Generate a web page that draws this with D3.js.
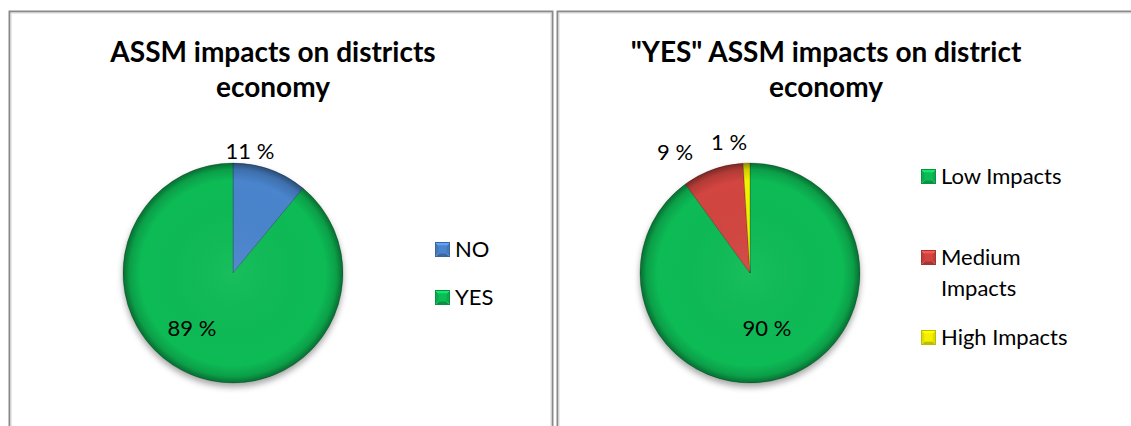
<!DOCTYPE html>
<html>
<head>
<meta charset="utf-8">
<script src="https://cdn.jsdelivr.net/npm/d3@7/dist/d3.min.js"></script>
<style>
  html, body { margin: 0; padding: 0; background: #fff; }
  svg { display: block; }
  text { font-family: Lato, "Liberation Sans", sans-serif; fill: #000; }
</style>
</head>
<body>
<svg id="chart" width="1131" height="426"></svg>
<script>
// ---- data ----
const economyCategories = ["NO", "YES"];
const economyValues = [11, 89];

const impactCategories = ["Low Impacts", "Medium Impacts", "High Impacts"];
const impactValues = [90, 9, 1];

const economyTitle = ["ASSM impacts on districts", "economy"];
const impactTitle = ["\"YES\" ASSM impacts on district", "economy"];

// ---- styling ----
const palette = {
  "NO": "#4a84cc",
  "YES": "#0bbb55",
  "Low Impacts": "#0bbb55",
  "Medium Impacts": "#d2443f",
  "High Impacts": "#f4f000"
};

const svg = d3.select("#chart");
const defs = svg.append("defs");

// soft shadow under each pie
const shadow = defs.append("filter").attr("id", "pieShadow")
  .attr("x", "-20%").attr("y", "-20%").attr("width", "140%").attr("height", "140%");
shadow.append("feDropShadow")
  .attr("dx", 0).attr("dy", 4).attr("stdDeviation", 3)
  .attr("flood-color", "#000").attr("flood-opacity", 0.35);

// darkened rim for the bevelled look
const rim = defs.append("radialGradient").attr("id", "rimShade")
  .attr("cx", "50%").attr("cy", "50%").attr("r", "50%");
rim.append("stop").attr("offset", "0%").attr("stop-color", "#fff").attr("stop-opacity", 0.05);
rim.append("stop").attr("offset", "84%").attr("stop-color", "#000").attr("stop-opacity", 0);
rim.append("stop").attr("offset", "94%").attr("stop-color", "#000").attr("stop-opacity", 0.15);
rim.append("stop").attr("offset", "100%").attr("stop-color", "#000").attr("stop-opacity", 0.42);

// panel frames
const frames = [
  { x: 9.5, y: 11.5, w: 543, h: 430 },
  { x: 557.5, y: 11.5, w: 600, h: 430 }
];
svg.selectAll("rect.frame").data(frames).join("rect")
  .attr("class", "frame")
  .attr("x", d => d.x).attr("y", d => d.y)
  .attr("width", d => d.w).attr("height", d => d.h)
  .attr("fill", "none").attr("stroke", "#8a8a8a").attr("stroke-width", 2);
svg.selectAll("rect.frameIn").data(frames).join("rect")
  .attr("class", "frameIn")
  .attr("x", d => d.x + 1.5).attr("y", d => d.y + 1.5)
  .attr("width", d => d.w - 3).attr("height", d => d.h - 3)
  .attr("fill", "none").attr("stroke", "#d8d8d8").attr("stroke-width", 1);

function bevelSquare(g, x, y, s, color) {
  const c = d3.color(color);
  const light = c.brighter(0.6).formatHex();
  const dark = c.darker(0.7).formatHex();
  const mid = c.darker(0.25).formatHex();
  const cx = x + s / 2, cy = y + s / 2;
  const tri = [
    { p: [[x, y], [x + s, y], [cx, cy]], f: light },
    { p: [[x + s, y], [x + s, y + s], [cx, cy]], f: mid },
    { p: [[x, y + s], [x + s, y + s], [cx, cy]], f: dark },
    { p: [[x, y], [x, y + s], [cx, cy]], f: mid }
  ];
  g.selectAll(null).data(tri).join("path")
    .attr("d", d => "M" + d.p.map(q => q.join(",")).join("L") + "Z")
    .attr("fill", d => d.f);
  g.append("rect").attr("x", x + s * 0.22).attr("y", y + s * 0.22)
    .attr("width", s * 0.56).attr("height", s * 0.56).attr("fill", color);
  g.append("rect").attr("x", x + 0.5).attr("y", y + 0.5)
    .attr("width", s - 1).attr("height", s - 1)
    .attr("fill", "none").attr("stroke", dark).attr("stroke-width", 1);
}

function drawPie(cfg) {
  const g = svg.append("g");

  // title
  g.append("text")
    .attr("x", cfg.titleX).attr("y", 62)
    .attr("text-anchor", "middle")
    .style("font-size", "28px").style("font-weight", "bold")
    .selectAll("tspan").data(cfg.title).join("tspan")
    .attr("x", cfg.titleX)
    .attr("dy", (d, i) => i === 0 ? 0 : 35)
    .text(d => d);

  const pie = d3.pie().sort(null).value(d => d.value);
  const arcs = pie(cfg.categories.map((c, i) => ({ name: c, value: cfg.values[i] })));
  const arc = d3.arc().innerRadius(0).outerRadius(cfg.r);

  const pg = g.append("g").attr("transform", `translate(${cfg.cx},${cfg.cy})`);
  const body = pg.append("g").attr("filter", "url(#pieShadow)");
  body.selectAll("path.slice").data(arcs).join("path")
    .attr("class", "slice")
    .attr("d", arc)
    .attr("fill", d => palette[d.data.name])
    .attr("stroke", "rgba(0,0,0,0.25)")
    .attr("stroke-width", 0.8);
  pg.append("circle").attr("r", cfg.r).attr("fill", "url(#rimShade)");

  // value labels
  pg.selectAll("text.val").data(arcs).join("text")
    .attr("class", "val")
    .attr("x", (d, i) => cfg.labelOffsets[i][0])
    .attr("y", (d, i) => cfg.labelOffsets[i][1])
    .attr("text-anchor", "middle")
    .attr("dominant-baseline", "central")
    .style("font-size", "22px")
    .text(d => d.data.value + " %");

  // legend
  const lg = g.append("g");
  cfg.categories.forEach((c, i) => {
    const y = cfg.legendY[i];
    bevelSquare(lg.append("g"), cfg.legendX, y - 15, 15, palette[c]);
    const lines = cfg.legendLines ? cfg.legendLines[i] : [c];
    const t = lg.append("text")
      .attr("x", cfg.legendX + 20).attr("y", y)
      .style("font-size", "22px");
    t.selectAll("tspan").data(lines).join("tspan")
      .attr("x", cfg.legendX + 20)
      .attr("dy", (d, k) => k === 0 ? 0 : 31)
      .text(d => d);
  });
}

drawPie({
  title: economyTitle,
  titleX: 273,
  categories: economyCategories,
  values: economyValues,
  cx: 233, cy: 273, r: 110,
  labelOffsets: [[17, -123], [-41, 54]],
  legendX: 435, legendY: [257, 305]
});

drawPie({
  title: impactTitle,
  titleX: 826,
  categories: impactCategories,
  values: impactValues,
  cx: 750, cy: 273, r: 110,
  labelOffsets: [[17, 54], [-75, -122], [-21, -132]],
  legendX: 921, legendY: [184, 265, 345],
  legendLines: [["Low Impacts"], ["Medium", "Impacts"], ["High Impacts"]]
});
</script>
</body>
</html>
